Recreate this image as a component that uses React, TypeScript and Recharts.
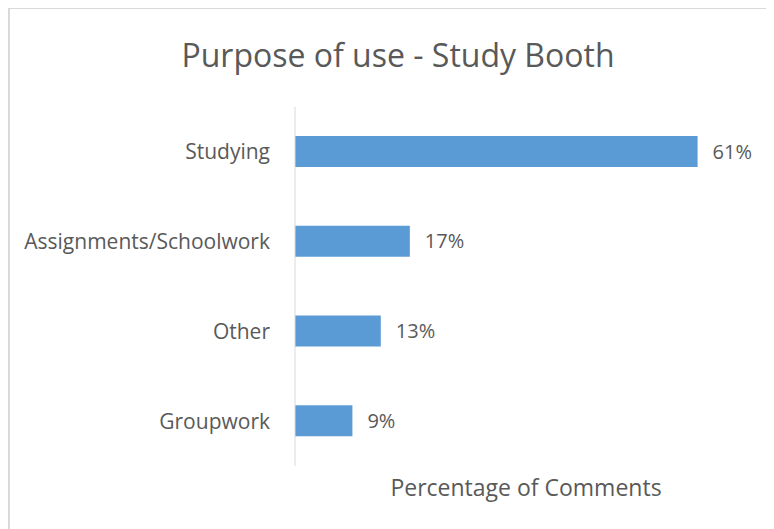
import React from 'react';
import { BarChart, Bar, XAxis, YAxis, LabelList } from 'recharts';

const categories = ['Studying', 'Assignments/Schoolwork', 'Other', 'Groupwork'];
const shares = [0.61, 0.174, 0.13, 0.087];

const data = categories.map((name, i) => ({ name, share: shares[i] }));

const FONT = '"Open Sans", "Noto Sans", sans-serif';
const TEXT = '#595959';
const GRID = '#d9d9d9';

const pct = (v: any) => `${Math.round(Number(v) * 100)}%`;

export default function App() {
  return (
    <div
      style={{
        position: 'relative',
        width: 764,
        height: 520,
        borderTop: `1px solid ${GRID}`,
        borderLeft: `2px solid ${GRID}`,
        fontFamily: FONT,
        overflow: 'hidden',
      }}
    >
      <div
        style={{
          position: 'absolute',
          top: 30,
          left: 0,
          width: 776,
          textAlign: 'center',
          fontSize: 32,
          lineHeight: '32px',
          color: TEXT,
        }}
      >
        Purpose of use - Study Booth
      </div>
      <BarChart
        width={764}
        height={520}
        layout="vertical"
        data={data}
        margin={{ top: 98, right: 17, bottom: 63, left: 0 }}
        barSize={31}
      >
        <XAxis type="number" domain={[0, 0.7]} hide />
        <YAxis
          type="category"
          dataKey="name"
          width={285}
          axisLine={{ stroke: GRID }}
          tickLine={false}
          tickSize={0}
          tickMargin={25}
          tick={{ fontSize: 21, fill: TEXT, fontFamily: FONT }}
        />
        <Bar dataKey="share" fill="#5b9bd5" isAnimationActive={false}>
          <LabelList
            dataKey="share"
            position="right"
            offset={15}
            formatter={pct}
            style={{ fontSize: 20, fill: TEXT, fontFamily: FONT }}
          />
        </Bar>
      </BarChart>
      <div
        style={{
          position: 'absolute',
          top: 467,
          left: 285,
          width: 462,
          textAlign: 'center',
          fontSize: 23,
          lineHeight: '23px',
          color: TEXT,
        }}
      >
        Percentage of Comments
      </div>
    </div>
  );
}
